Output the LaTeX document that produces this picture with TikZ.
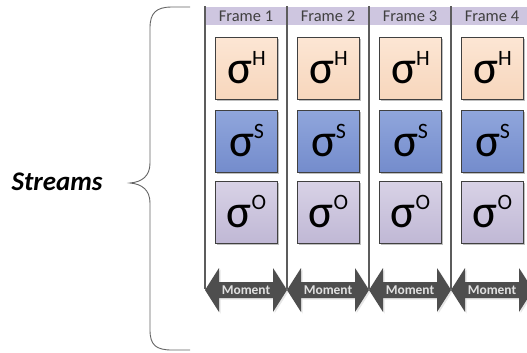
\documentclass[tikz,border=0pt]{standalone}
\usepackage{fontspec}
\setmainfont{Carlito}
\usetikzlibrary{shadows}

\definecolor{hdr}{RGB}{206,198,224}
\definecolor{hTop}{RGB}{252,230,212}
\definecolor{hBot}{RGB}{247,214,188}
\definecolor{sTop}{RGB}{144,166,220}
\definecolor{sBot}{RGB}{116,140,204}
\definecolor{oTop}{RGB}{216,210,230}
\definecolor{oBot}{RGB}{192,184,213}
\definecolor{arrowgray}{RGB}{78,78,78}
\definecolor{framegray}{RGB}{92,92,92}
\definecolor{labelgray}{RGB}{64,64,64}
\definecolor{bracegray}{RGB}{100,100,100}

\tikzset{
  framehdr/.style={fill=hdr, draw=none},
  frameline/.style={draw=framegray, line width=1.6bp},
  framelabel/.style={font=\fontsize{16.5}{16.5}\selectfont, text=labelgray, inner sep=0pt},
  statebox/.style={draw=black!75, line width=0.9bp, minimum width=62bp, minimum height=62bp,
    inner sep=0pt, shading=axis, shading angle=0,
    drop shadow={shadow xshift=1.5bp, shadow yshift=-1.5bp, opacity=0.25, fill=black}},
  hbox/.style={statebox, top color=hTop, bottom color=hBot},
  sbox/.style={statebox, top color=sTop, bottom color=sBot},
  obox/.style={statebox, top color=oTop, bottom color=oBot},
  momentarrow/.style={fill=arrowgray, drop shadow={shadow xshift=1.5bp, shadow yshift=-1.5bp, opacity=0.2}},
  momentlabel/.style={font=\bfseries\fontsize{13.5}{13.5}\selectfont, text=black!12, inner sep=0pt},
  bracestyle/.style={draw=bracegray, line width=0.9bp},
}

\newcommand{\sig}[1]{{\fontsize{47}{47}\selectfont σ}\raisebox{18bp}{\fontsize{22}{22}\selectfont #1}}

\begin{document}
\begin{tikzpicture}[x=1bp, y=-1bp]
  \useasboundingbox (0,0) rectangle (527,352);
  \clip (0,0) rectangle (527,352);

  % curly brace grouping the streams
  \draw[bracestyle] (190,7) -- (172,7) .. controls (156,7) and (150,13) .. (150,28)
    -- (150,163) .. controls (150,176) and (142,182) .. (130,183)
    .. controls (142,184) and (150,190) .. (150,203)
    -- (150,330) .. controls (150,345) and (156,350) .. (172,350) -- (190,350);
  \node[font=\bfseries\itshape\fontsize{27}{27}\selectfont, inner sep=0pt] (streams) at (57,182) {Streams};

  % frame headers and separators
  \foreach \i in {0,...,3} {
    \pgfmathsetmacro{\xa}{205+82*\i}
    \fill[framehdr] (\xa,7) rectangle (\xa+82,25);
    \node[framelabel] (label\i) at (\xa+41,16) {Frame \the\numexpr\i+1\relax};
  }
  \foreach \i in {0,...,4} {
    \pgfmathsetmacro{\xa}{205+82*\i}
    \draw[frameline] (\xa,6) -- (\xa,289);
  }

  % per-frame states and moment arrows
  \foreach \i in {0,...,3} {
    \pgfmathsetmacro{\xa}{205+82*\i}
    \node[hbox] (h\i) at (\xa+41.5,68) {\sig{H}};
    \node[sbox] (s\i) at (\xa+41.5,141) {\sig{S}};
    \node[obox] (o\i) at (\xa+41.5,212) {\sig{O}};
    \fill[momentarrow] (\xa,290) -- (\xa+14,268) -- (\xa+14,282) -- (\xa+68,282) -- (\xa+68,268)
      -- (\xa+82,290) -- (\xa+68,312) -- (\xa+68,298) -- (\xa+14,298) -- (\xa+14,312) -- cycle;
    \node[momentlabel] (m\i) at (\xa+41,290) {Moment};
  }
\end{tikzpicture}
\end{document}
